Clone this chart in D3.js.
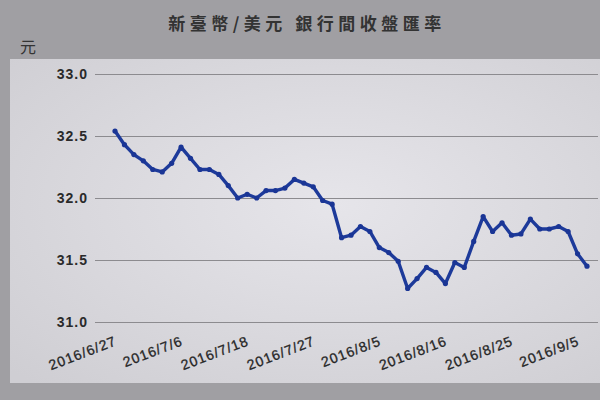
<!DOCTYPE html>
<html>
<head>
<meta charset="utf-8">
<script src="https://cdn.jsdelivr.net/npm/d3@7"></script>
<style>
  html, body { margin: 0; padding: 0; background: #a09fa3; }
  svg { display: block; }
  .grid line { stroke: #8c8b8f; stroke-width: 1.2; }
  .grid text { font-family: "Liberation Sans", Arial, sans-serif; font-size: 14px; font-weight: bold; letter-spacing: 1px; fill: #2a2a2a; }
  .xaxis text { font-family: "Liberation Sans", Arial, sans-serif; font-size: 14px; letter-spacing: 1px; fill: #262626; stroke: #262626; stroke-width: 0.3px; }
</style>
</head>
<body>
<div id="chart"></div>
<script>
// Trading days (7/8 closed for typhoon)
const dates = [
  '2016/6/27', '2016/6/28', '2016/6/29', '2016/6/30', '2016/7/1', '2016/7/4', '2016/7/5', '2016/7/6',
  '2016/7/7', '2016/7/11', '2016/7/12', '2016/7/13', '2016/7/14', '2016/7/15', '2016/7/18',
  '2016/7/19', '2016/7/20', '2016/7/21', '2016/7/22', '2016/7/25', '2016/7/26', '2016/7/27',
  '2016/7/28', '2016/7/29', '2016/8/1', '2016/8/2', '2016/8/3', '2016/8/4', '2016/8/5',
  '2016/8/8', '2016/8/9', '2016/8/10', '2016/8/11', '2016/8/12', '2016/8/15', '2016/8/16',
  '2016/8/17', '2016/8/18', '2016/8/19', '2016/8/22', '2016/8/23', '2016/8/24', '2016/8/25',
  '2016/8/26', '2016/8/29', '2016/8/30', '2016/8/31', '2016/9/1', '2016/9/2', '2016/9/5',
  '2016/9/6'
];
const rates = [
  32.54, 32.43, 32.35, 32.30, 32.23, 32.21, 32.28, 32.41,
  32.32, 32.23, 32.23, 32.19, 32.10, 32.00, 32.03,
  32.00, 32.06, 32.06, 32.08, 32.15, 32.12, 32.09,
  31.98, 31.95, 31.68, 31.70, 31.77, 31.73, 31.60,
  31.56, 31.49, 31.27, 31.35, 31.44, 31.40, 31.31,
  31.48, 31.44, 31.65, 31.85, 31.73, 31.80, 31.70,
  31.71, 31.83, 31.75, 31.75, 31.77, 31.73, 31.55,
  31.45
];
const yTicks = [31.0, 31.5, 32.0, 32.5, 33.0];
const xTickLabels = ['2016/6/27', '2016/7/6', '2016/7/18', '2016/7/27', '2016/8/5', '2016/8/16', '2016/8/25', '2016/9/5'];

const W = 600, H = 400;
const svg = d3.select('#chart').append('svg').attr('width', W).attr('height', H);

// photo-like backdrop and chart panel
const defs = svg.append('defs');
const grad = defs.append('radialGradient').attr('id', 'panel').attr('cx', '55%').attr('cy', '45%').attr('r', '75%');
grad.append('stop').attr('offset', '0%').attr('stop-color', '#e6e5ea');
grad.append('stop').attr('offset', '100%').attr('stop-color', '#cfced3');
svg.append('rect').attr('width', W).attr('height', H).attr('fill', '#a09fa3');
svg.append('rect').attr('x', 10).attr('y', 59).attr('width', W - 10).attr('height', 324).attr('fill', 'url(#panel)');

const x = d3.scalePoint().domain(dates).range([115, 587]);
const y = d3.scaleLinear().domain([31, 33]).range([322, 74]);

// gridlines + y labels
svg.append('g')
  .attr('class', 'grid')
  .attr('transform', 'translate(95,0)')
  .call(d3.axisLeft(y).tickValues(yTicks).tickFormat(d3.format('.1f')).tickSizeInner(-(598 - 95)).tickSizeOuter(0).tickPadding(7))
  .call(g => g.select('.domain').remove());

// x labels
svg.append('g')
  .attr('class', 'xaxis')
  .attr('transform', 'translate(0,322)')
  .call(d3.axisBottom(x).tickValues(xTickLabels).tickSize(0))
  .call(g => g.select('.domain').remove())
  .selectAll('text')
  .attr('text-anchor', 'end')
  .attr('dy', 0)
  .attr('transform', 'translate(1,20) rotate(-21)');

// series
const pts = dates.map((d, i) => ({ d: d, v: rates[i] }));
svg.append('path')
  .datum(pts)
  .attr('fill', 'none')
  .attr('stroke', '#1d3a9a')
  .attr('stroke-width', 3.4)
  .attr('stroke-linejoin', 'round')
  .attr('d', d3.line().x(p => x(p.d)).y(p => y(p.v)));

svg.append('g').selectAll('circle')
  .data(pts)
  .enter()
  .append('circle')
  .attr('cx', p => x(p.d))
  .attr('cy', p => y(p.v))
  .attr('r', 2.6)
  .attr('fill', '#1a3595');

// title and unit
svg.append('text')
  .attr('x', 307).attr('y', 30)
  .attr('text-anchor', 'middle')
  .style('font-family', '"Noto Sans CJK TC", sans-serif')
  .style('font-size', '17px')
  .style('font-weight', 'bold')
  .style('letter-spacing', '4.5px')
  .style('fill', '#333')
  .text('新臺幣/美元 銀行間收盤匯率');

svg.append('text')
  .attr('x', 20).attr('y', 53)
  .style('font-family', '"Noto Sans CJK TC", sans-serif')
  .style('font-size', '16px')
  .style('fill', '#333')
  .text('元');
</script>
</body>
</html>
